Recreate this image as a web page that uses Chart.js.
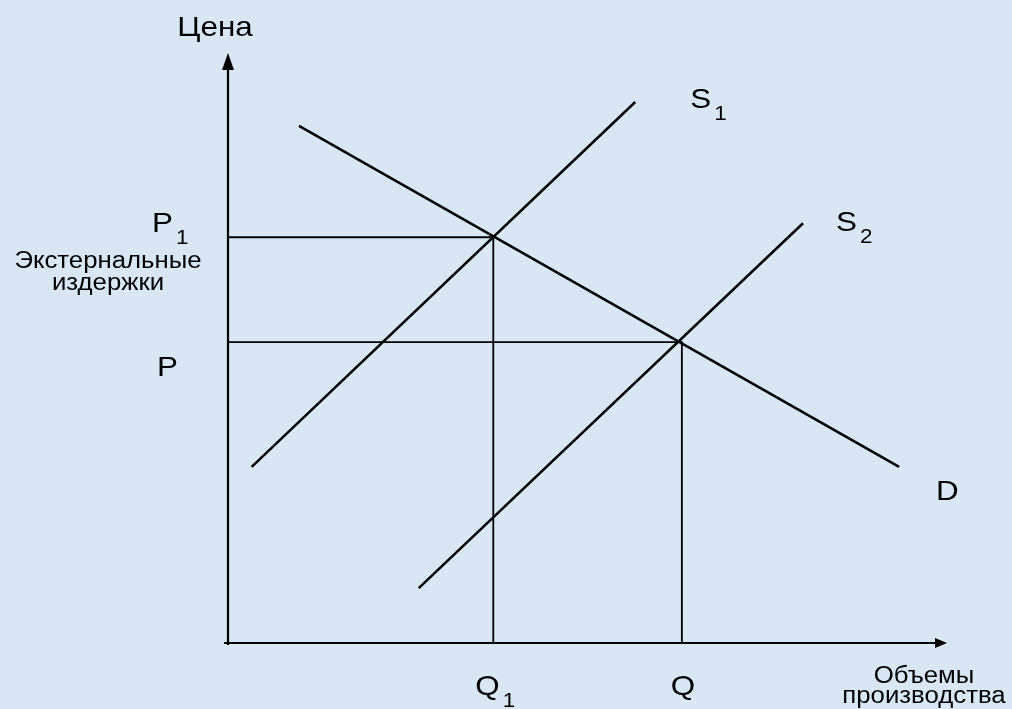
<!DOCTYPE html>
<html>
<head>
<meta charset="utf-8">
<script src="https://cdn.jsdelivr.net/npm/chart.js@4/dist/chart.umd.min.js"></script>
<style>
  html, body { margin: 0; padding: 0; background: #d9e6f3; }
  canvas { display: block; }
</style>
</head>
<body>
<canvas id="externChart" width="1012" height="709"></canvas>
<script>
// values, axis units 0..100
const demandD = [{x: 9.9, y: 88.7}, {x: 93.6, y: 30.2}];
const supplyS1 = [{x: 3.3, y: 30.2}, {x: 56.8, y: 92.8}];
const supplyS2 = [{x: 26.6, y: 9.4}, {x: 80.2, y: 72.0}];
const priceP1 = 69.6, qtyQ1 = 37.0;
const priceP = 51.6, qtyQ = 63.3;

const axisTitles = ['Цена', 'Объемы', 'производства'];
const sideNote = ['Экстернальные', 'издержки'];

const font = '"Liberation Sans", Arial, sans-serif';
const stretch = 1.12; // the source text is a little wider than Arial

function lineSet(data, width) {
    return {
        data: data,
        showLine: true,
        borderColor: '#000',
        borderWidth: width,
        pointRadius: 0,
        pointHoverRadius: 0,
        tension: 0,
        fill: false
    };
}

// draw text stretched horizontally, returns drawn width
function text(ctx, txt, x, y, size, align) {
    ctx.save();
    ctx.font = `${size}px ${font}`;
    ctx.textAlign = align || 'left';
    ctx.textBaseline = 'alphabetic';
    ctx.translate(x, y);
    ctx.scale(stretch, 1);
    ctx.fillText(txt, 0, 0);
    const w = ctx.measureText(txt).width * stretch;
    ctx.restore();
    return w;
}

function label(ctx, txt, sub, x, y) {
    const w = text(ctx, txt, x, y, 28);
    if (sub) text(ctx, sub, x + w + 3, y + 12, 20);
}

const bgPlugin = {
    id: 'bg',
    beforeDraw(chart) {
        const c = chart.ctx;
        c.save();
        c.fillStyle = '#d9e6f3';
        c.fillRect(0, 0, chart.width, chart.height);
        c.restore();
    }
};

const axesPlugin = {
    id: 'arrows',
    afterDraw(chart) {
        const c = chart.ctx;
        const a = chart.chartArea;
        const xs = chart.scales.x, ys = chart.scales.y;
        c.save();
        c.strokeStyle = '#000';
        c.fillStyle = '#000';
        c.lineWidth = 2.2;
        // y axis with arrow
        c.beginPath();
        c.moveTo(a.left, a.bottom + 2);
        c.lineTo(a.left, a.top + 4);
        c.stroke();
        c.beginPath();
        c.moveTo(a.left, a.top - 7);
        c.lineTo(a.left - 6, a.top + 10);
        c.lineTo(a.left + 6, a.top + 10);
        c.closePath();
        c.fill();
        // x axis with arrow
        c.beginPath();
        c.moveTo(a.left - 4, a.bottom);
        c.lineTo(a.right - 6, a.bottom);
        c.stroke();
        c.beginPath();
        c.moveTo(a.right + 2, a.bottom);
        c.lineTo(a.right - 10, a.bottom - 5);
        c.lineTo(a.right - 10, a.bottom + 5);
        c.closePath();
        c.fill();

        c.fillStyle = '#000';
        text(c, axisTitles[0], a.left - 13, a.top - 24, 28, 'center');

        const yP1 = ys.getPixelForValue(priceP1);
        const yP = ys.getPixelForValue(priceP);
        const xQ1 = xs.getPixelForValue(qtyQ1);
        const xQ = xs.getPixelForValue(qtyQ);

        label(c, 'P', '1', 152, yP1 - 5);
        label(c, 'P', '', 157, yP + 34);
        label(c, 'Q', '1', xQ1 - 18, 695);
        label(c, 'Q', '', xQ - 11, 695);

        const s1 = supplyS1[1], s2 = supplyS2[1], d = demandD[1];
        label(c, 'S', '1', xs.getPixelForValue(s1.x) + 55, ys.getPixelForValue(s1.y) + 6);
        label(c, 'S', '2', xs.getPixelForValue(s2.x) + 33, ys.getPixelForValue(s2.y) + 8);
        label(c, 'D', '', xs.getPixelForValue(d.x) + 37, ys.getPixelForValue(d.y) + 33);

        text(c, sideNote[0], 108, 268, 23, 'center');
        text(c, sideNote[1], 108, 290, 23, 'center');

        text(c, axisTitles[1], 924, 683, 23, 'center');
        text(c, axisTitles[2], 924, 703, 23, 'center');
        c.restore();
    }
};

const chart = new Chart(document.getElementById('externChart').getContext('2d'), {
    type: 'scatter',
    data: {
        datasets: [
            lineSet(demandD, 2.5),
            lineSet(supplyS1, 2.5),
            lineSet(supplyS2, 2.5),
            lineSet([{x: 0, y: priceP1}, {x: qtyQ1, y: priceP1}, {x: qtyQ1, y: 0}], 1.8),
            lineSet([{x: 0, y: priceP}, {x: qtyQ, y: priceP}, {x: qtyQ, y: 0}], 1.8)
        ]
    },
    options: {
        responsive: false,
        animation: false,
        layout: {
            padding: {left: 228, right: 67, top: 60, bottom: 66}
        },
        plugins: {
            legend: {display: false},
            tooltip: {enabled: false}
        },
        scales: {
            x: {type: 'linear', min: 0, max: 100, display: false},
            y: {type: 'linear', min: 0, max: 100, display: false}
        }
    },
    plugins: [bgPlugin, axesPlugin]
});
</script>
</body>
</html>
